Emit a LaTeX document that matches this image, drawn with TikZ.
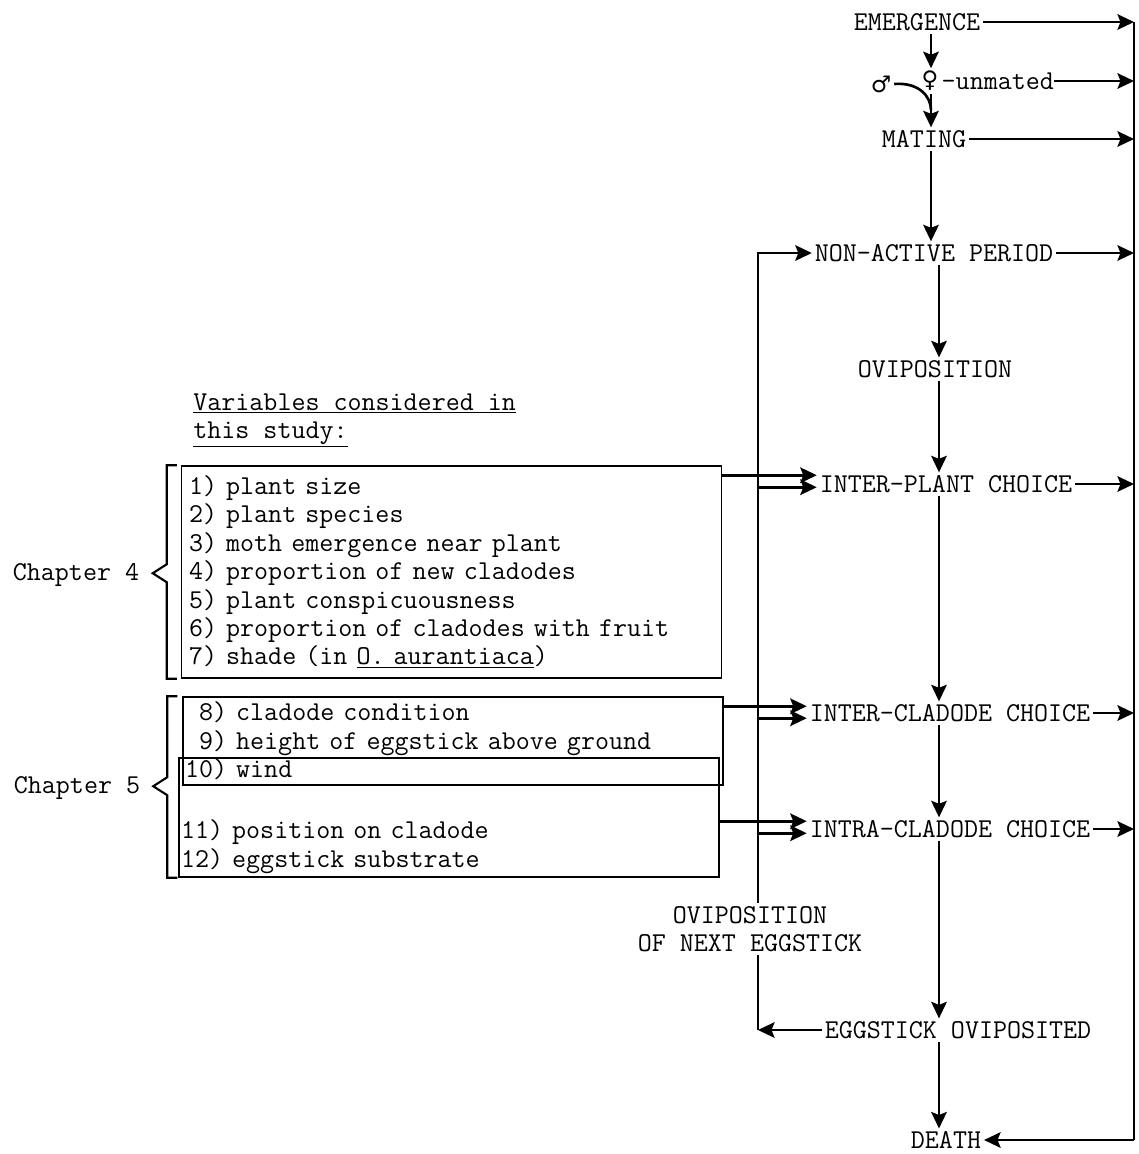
\documentclass[tikz,border=0pt]{standalone}
\usepackage{fontspec}
\newfontfamily\symbfont{DejaVu Sans}
\usetikzlibrary{arrows.meta,positioning,calc}

\begin{document}
\begin{tikzpicture}[
    x=0.02cm, y=-0.02cm,
    font=\ttfamily\fontsize{15.5}{16.2}\selectfont,
    stage/.style={inner sep=1.5pt},
    flow/.style={-{Stealth[length=3.3mm,width=3.1mm,inset=0.6mm]},line width=1.5pt},
    link/.style={line width=1.5pt},
    varbox/.style={draw,line width=0.9pt,minimum width=10.8cm,align=left,inner sep=0pt},
    brace/.style={line width=1.2pt,line join=miter}
  ]
  \useasboundingbox (0,0) rectangle (1139,1154);

  % life history of the moth
  \node[stage] (emergence) at (917,22) {EMERGENCE};
  \node[stage] (female) at (930,81) {\symbfont\fontsize{13}{13}\selectfont ♀};
  \node[stage,anchor=west,inner xsep=0pt] (unmated) at (female.east) {-unmated};
  \node[stage] (male) at (881,84) {\symbfont\fontsize{13}{13}\selectfont ♂};
  \node[stage] (mating) at (924,139) {MATING};
  \node[stage] (nonactive) at (934,253) {NON-ACTIVE PERIOD};
  \node[stage] (ovipos) at (935,369) {OVIPOSITION};
  \node[stage] (interplant) at (946,484) {INTER-PLANT CHOICE};
  \node[stage] (intercladode) at (950,713) {INTER-CLADODE CHOICE};
  \node[stage] (intracladode) at (950,829) {INTRA-CLADODE CHOICE};
  \node[stage] (eggstick) at (958,1030) {EGGSTICK OVIPOSITED};
  \node[stage] (death) at (946,1140) {DEATH};
  \node[stage,align=center] (nextegg) at (750,929) {OVIPOSITION\\OF NEXT EGGSTICK};

  \coordinate (topx) at (931,0);
  \coordinate (spine) at (939,0);
  \coordinate (loop) at (758,0);
  \coordinate (rtop) at (1134,22);
  \coordinate (join) at (931,110);

  % main sequence
  \draw[flow] (emergence.south -| topx) -- (female.north -| topx);
  \draw[flow] (female.south -| topx) -- (mating.north -| topx);
  \draw[link] (male.east) .. controls +(24,-2) and +(0,-14) .. (join);
  \draw[flow] (mating.south -| topx) -- (nonactive.north -| topx);
  \foreach \a/\b in {nonactive/ovipos,ovipos/interplant,interplant/intercladode,
      intercladode/intracladode,intracladode/eggstick,eggstick/death}
    \draw[flow] (\a.south -| spine) -- (\b.north -| spine);

  % exits to death
  \foreach \s in {emergence,unmated,mating,nonactive,interplant,intercladode,intracladode}
    \draw[flow] (\s.east) -- (\s.east -| rtop);
  \draw[link] (rtop) -- (death.east -| rtop);
  \draw[flow] (death.east -| rtop) -- (death.east);

  % next eggstick
  \draw[flow] (eggstick.west) -- (eggstick.west -| loop);
  \draw[link] (eggstick.west -| loop) -- (nextegg.south -| loop);
  \draw[flow] (nextegg.north -| loop) |- (nonactive.west);

  % variables
  \node[anchor=base west,inner sep=0pt] (vars1) at (193,410) {\underline{Variables considered in}};
  \node[anchor=base west,inner sep=0pt] (vars2) at (193,438) {\underline{this study:}};

  \node[varbox,minimum height=4.24cm,text width=10.5cm] (plantbox) at (451.5,572)
    {1) plant size\\2) plant species\\3) moth emergence near plant\\
     4) proportion of new cladodes\\5) plant conspicuousness\\
     6) proportion of cladodes with fruit\\7) shade (in \underline{O. aurantiaca})};
  \node[varbox,minimum height=1.76cm,text width=10.72cm] (cladbox) at (453,741)
    {\phantom{1}8) cladode condition\\\phantom{1}9) height of eggstick above ground\\10) wind};
  \node[varbox,minimum height=2.38cm,text width=10.72cm] (posbox) at (449,817.5)
    {\strut\\\strut\\11) position on cladode\\12) eggstick substrate};

  \foreach \bx/\dy/\st in {plantbox/10/interplant,cladbox/10/intercladode,posbox/64/intracladode}{
    \coordinate (tap) at ($(\bx.north east)+(0,\dy)$);
    \draw[flow] (tap) -- (tap -| \st.west);
    \draw[flow] ($(tap -| loop)+(0,12)$) -- ($(tap -| \st.west)+(0,12)$);
  }

  % chapters
  \node (chap4) at (76,575) {Chapter 4};
  \node (chap5) at (77,788) {Chapter 5};
  \draw[brace] ($(plantbox.north west)+(-4,0)$) -- ++(-10,0) -- ++(0,99) -- ++(-14,9)
    -- ++(14,9) |- ($(plantbox.south west)+(-4,0)$);
  \draw[brace] ($(cladbox.north west)+(-5,0)$) -- ++(-10,0) -- ++(0,81) -- ++(-14,9)
    -- ++(14,9) |- ($(posbox.south west)+(-1,0)$);
\end{tikzpicture}
\end{document}
